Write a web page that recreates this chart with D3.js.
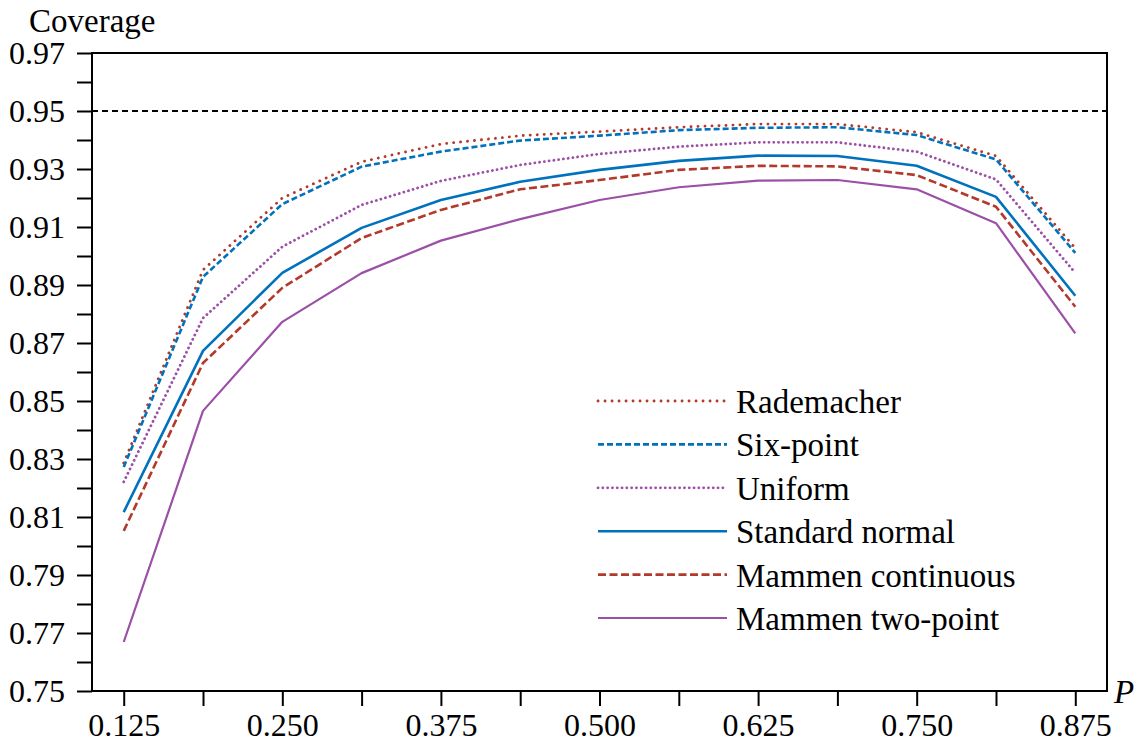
<!DOCTYPE html>
<html>
<head>
<meta charset="utf-8">
<script src="https://cdn.jsdelivr.net/npm/d3@7"></script>
<style>
  body { margin: 0; background: #fff; }
  svg text { font-family: "Liberation Serif", "Times New Roman", Tinos, "DejaVu Serif", "Noto Serif", serif; fill: #000; }
</style>
</head>
<body>
<div id="chart"></div>
<script>
var svgWidth = 1141;
var svgHeight = 745;

var margin = { top: 53, right: 34, bottom: 54, left: 92 };
var width = svgWidth - margin.left - margin.right;
var height = svgHeight - margin.top - margin.bottom;

var serifFont = '"Liberation Serif", "Times New Roman", Tinos, "DejaVu Serif", "Noto Serif", serif';

// data
var pValues = [0.125, 0.1875, 0.25, 0.3125, 0.375, 0.4375, 0.5, 0.5625, 0.625, 0.6875, 0.75, 0.8125, 0.875];
var rademacher      = [0.8286, 0.8952, 0.9200, 0.9325, 0.9386, 0.9415, 0.9429, 0.9444, 0.9455, 0.9455, 0.9427, 0.9345, 0.9027];
var sixPoint        = [0.8272, 0.8928, 0.9179, 0.9308, 0.9360, 0.9398, 0.9415, 0.9434, 0.9442, 0.9444, 0.9417, 0.9333, 0.9011];
var uniform         = [0.8221, 0.8786, 0.9032, 0.9176, 0.9259, 0.9314, 0.9352, 0.9377, 0.9392, 0.9392, 0.9360, 0.9264, 0.8942];
var standardNormal  = [0.8117, 0.8673, 0.8942, 0.9097, 0.9193, 0.9256, 0.9297, 0.9328, 0.9346, 0.9345, 0.9311, 0.9204, 0.8863];
var mammenCont      = [0.8052, 0.8631, 0.8890, 0.9062, 0.9159, 0.9230, 0.9262, 0.9297, 0.9311, 0.9309, 0.9279, 0.9170, 0.8825];
var mammenTwoPoint  = [0.7669, 0.8466, 0.8773, 0.8941, 0.9053, 0.9127, 0.9193, 0.9237, 0.9260, 0.9262, 0.9230, 0.9113, 0.8733];

var seriesNames = ["Rademacher", "Six-point", "Uniform", "Standard normal", "Mammen continuous", "Mammen two-point"];
var seriesValues = [rademacher, sixPoint, uniform, standardNormal, mammenCont, mammenTwoPoint];

var yTicks = d3.range(75, 98).map(d => d / 100);
var xTicks = [0.125, 0.1875, 0.25, 0.3125, 0.375, 0.4375, 0.5, 0.5625, 0.625, 0.6875, 0.75, 0.8125, 0.875];
var targetCoverage = 0.95;

// line styles per series
var styles = [
  { color: "#b3392a", dash: "0.1,6.9", width: 2.8, cap: "round" },
  { color: "#0072bd", dash: "6,3", width: 2.6, cap: "butt" },
  { color: "#9c4fa6", dash: "0.1,4.7", width: 2.8, cap: "round" },
  { color: "#0072bd", dash: null, width: 2.6, cap: "butt" },
  { color: "#b3392a", dash: "8,3.5", width: 2.6, cap: "butt" },
  { color: "#9c4fa6", dash: null, width: 2.2, cap: "butt" }
];

var svg = d3.select("#chart").append("svg")
  .attr("width", svgWidth)
  .attr("height", svgHeight)
  .attr("font-family", serifFont);

var chartGroup = svg.append("g")
  .attr("transform", `translate(${margin.left}, ${margin.top})`);

var xScale = d3.scaleLinear().domain([0.1, 0.9]).range([0, width]);
var yScale = d3.scaleLinear().domain([0.75, 0.97]).range([height, 0]);

// axes
var leftAxis = d3.axisLeft(yScale)
  .tickValues(yTicks)
  .tickSize(15)
  .tickPadding(12)
  .tickFormat(d => (Math.round(d * 100) % 2 === 1) ? d3.format(".2f")(d) : "");

var bottomAxis = d3.axisBottom(xScale)
  .tickValues(xTicks)
  .tickSize(15)
  .tickPadding(9)
  .tickFormat((d, i) => i % 2 === 0 ? d3.format(".3f")(d) : "");

var yAxisG = chartGroup.append("g").call(leftAxis);
var xAxisG = chartGroup.append("g").attr("transform", `translate(0, ${height})`).call(bottomAxis);

[yAxisG, xAxisG].forEach(function(g) {
  g.attr("font-family", serifFont).attr("font-size", 32);
  g.select(".domain").remove();
  g.selectAll(".tick line").attr("stroke", "#000").attr("stroke-width", 2);
  g.selectAll(".tick text").style("font-size", "32px").style("font-family", serifFont);
});
xAxisG.selectAll(".tick text").attr("dy", "0.66em");

// frame
chartGroup.append("rect")
  .attr("x", 0).attr("y", 0)
  .attr("width", width).attr("height", height)
  .attr("fill", "none")
  .attr("stroke", "#000")
  .attr("stroke-width", 2);

// 0.95 reference line
chartGroup.append("line")
  .attr("x1", 0).attr("x2", width)
  .attr("y1", yScale(targetCoverage)).attr("y2", yScale(targetCoverage))
  .attr("stroke", "#000")
  .attr("stroke-width", 2)
  .attr("stroke-dasharray", "6,4");

// series lines
var line = d3.line()
  .x((d, i) => xScale(pValues[i]))
  .y(d => yScale(d));

seriesValues.forEach(function(vals, i) {
  chartGroup.append("path")
    .datum(vals)
    .attr("d", line)
    .attr("fill", "none")
    .attr("stroke", styles[i].color)
    .attr("stroke-width", styles[i].width)
    .attr("stroke-linecap", styles[i].cap)
    .attr("stroke-linejoin", "round")
    .attr("stroke-dasharray", styles[i].dash);
});

// legend
var legend = svg.append("g").attr("transform", "translate(598, 401)");
seriesNames.forEach(function(name, i) {
  var row = legend.append("g").attr("transform", `translate(0, ${i * 43.4})`);
  row.append("line")
    .attr("x1", 0).attr("x2", 129)
    .attr("y1", 0).attr("y2", 0)
    .attr("stroke", styles[i].color)
    .attr("stroke-width", styles[i].width)
    .attr("stroke-linecap", styles[i].cap)
    .attr("stroke-dasharray", styles[i].dash);
  row.append("text")
    .attr("x", 138)
    .attr("y", 12)
    .style("font-size", "33px")
    .text(name);
});

// axis titles
svg.append("text")
  .attr("x", 29)
  .attr("y", 32)
  .style("font-size", "33px")
  .text("Coverage");

svg.append("text")
  .attr("x", 1114)
  .attr("y", 703)
  .style("font-size", "33px")
  .style("font-style", "italic")
  .text("P");
</script>
</body>
</html>
